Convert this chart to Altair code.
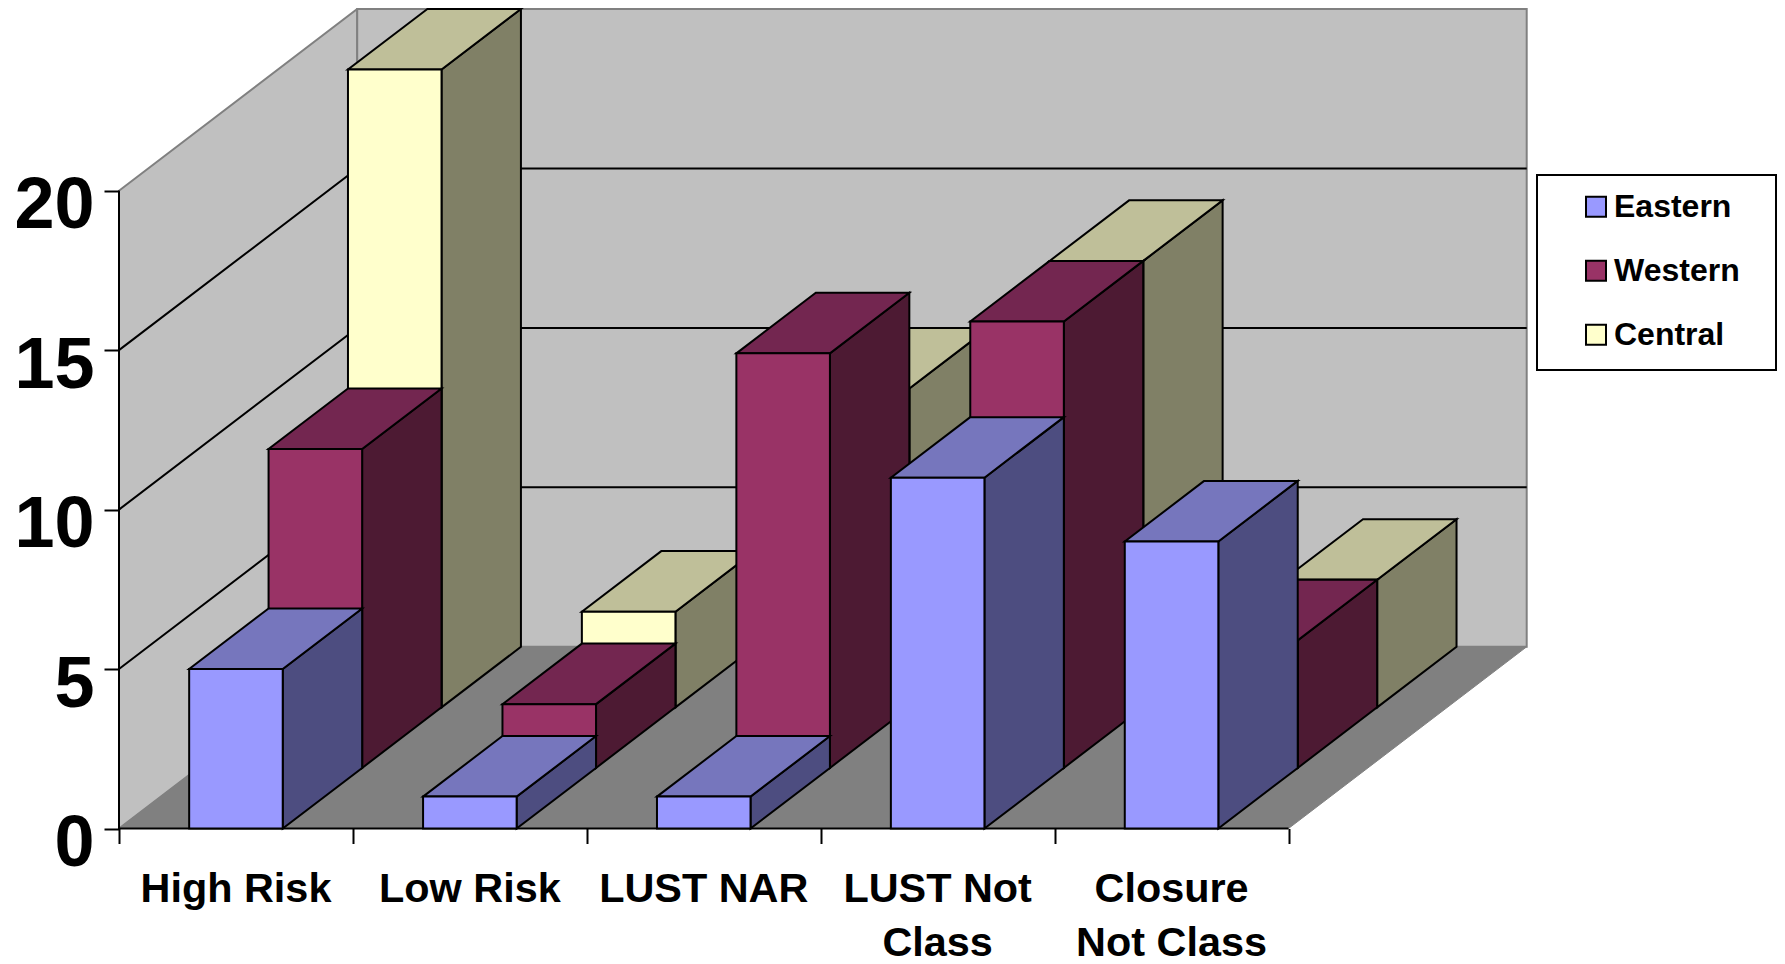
import altair as alt
import pandas as pd

categories = ["High Risk", "Low Risk", "LUST NAR", "LUST Not\nClass", "Closure\nNot Class"]
eastern = [5, 1, 1, 11, 9]
western = [10, 2, 13, 14, 4]
central = [20, 3, 10, 14, 4]
series_names = ["Eastern", "Western", "Central"]
front_colors = ["#9999FF", "#993366", "#FFFFCC"]
side_colors = ["#4D4D80", "#4D1A33", "#808066"]
top_colors = ["#7676BD", "#732650", "#BFBF99"]
grid_levels = [5, 10, 15]
y_ticks = [0, 5, 10, 15, 20]
x_ticks = [0, 1, 2, 3, 4, 5]

W, H = 1769, 956
PX_CAT, PX_VAL = 233.9, 31.89
X0, Y0 = 119.0, 828.5  # page position of the chart origin
DX, DY = 79.4 / PX_CAT, 60.57 / PX_VAL  # oblique projection of one depth row
BAR_GAP, BAR_W = 0.3, 0.4
N_ROWS = 3
N_CAT = len(categories)

sx = alt.Scale(domain=[(8 - X0) / PX_CAT, (8 + W - X0) / PX_CAT], range=[0, W], nice=False, zero=False)
sy = alt.Scale(domain=[(Y0 - 8 - H) / PX_VAL, (Y0 - 8) / PX_VAL], range=[H, 0], nice=False, zero=False)

x_axis = alt.Axis(
    values=x_ticks, labels=False, title=None, domain=False, grid=False, ticks=True,
    tickSize=15, tickWidth=2, tickColor="black", offset=-(8 + H - Y0), zindex=2)
y_axis = alt.Axis(
    values=y_ticks, title=None, domain=False, grid=False, tickSize=15, tickWidth=2, tickColor="black",
    labelFontSize=72, labelFont="Liberation Sans", labelFontWeight="bold", labelColor="black",
    labelPadding=10, labelOffset=15, labelFlush=False, labelOverlap=False, format="d",
    offset=-(X0 - 8), zindex=2)


def X(f="x"):
    return alt.X(f"{f}:Q", scale=sx, axis=x_axis)


def Y(f="y"):
    return alt.Y(f"{f}:Q", scale=sy, axis=y_axis)


layers = []

# walls and floor
back_dx, back_dy = DX * N_ROWS, DY * N_ROWS
left_wall = pd.DataFrame({"x": [0, back_dx], "y": [20, 20 + back_dy], "y2": [0, back_dy]})
layers.append(alt.Chart(left_wall).mark_area(fill="#C0C0C0", stroke="#808080", strokeWidth=2).encode(
    x=X(), y=Y(), y2="y2:Q"))
back_wall = pd.DataFrame([{"x": back_dx, "x2": back_dx + N_CAT, "y": 20 + back_dy, "y2": back_dy}])
layers.append(alt.Chart(back_wall).mark_rect(fill="#C0C0C0", stroke="#808080", strokeWidth=2).encode(
    x=X(), x2="x2:Q", y=Y(), y2="y2:Q"))
floor = pd.DataFrame({"y": [0, back_dy], "x": [0, back_dx], "x2": [N_CAT, N_CAT + back_dx]})
layers.append(alt.Chart(floor).mark_area(orient="horizontal", fill="#808080", stroke="#808080", strokeWidth=1).encode(
    x=X(), x2="x2:Q", y=Y()))

# gridlines running along the left and back walls
grid = []
for lv in grid_levels:
    grid += [
        {"lv": lv, "o": 0, "x": 0, "y": lv},
        {"lv": lv, "o": 1, "x": back_dx, "y": lv + back_dy},
        {"lv": lv, "o": 2, "x": back_dx + N_CAT, "y": lv + back_dy},
    ]
layers.append(alt.Chart(pd.DataFrame(grid)).mark_line(color="black", strokeWidth=2).encode(
    x=X(), y=Y(), detail="lv:N", order="o:Q"))

# visible axis lines
axis_line = pd.DataFrame({"x": [0, 0, N_CAT], "y": [20, 0, 0], "o": [0, 1, 2]})
layers.append(alt.Chart(axis_line).mark_line(color="black", strokeWidth=2).encode(
    x=X(), y=Y(), order="o:Q"))

# legend frame
frame = pd.DataFrame([{"name": "legend frame"}])
layers.append(alt.Chart(frame).mark_rect(fill="white", stroke="black", strokeWidth=2).encode(
    x=alt.value(1537 - 8), x2=alt.value(W - 1), y=alt.value(175 - 8), y2=alt.value(370 - 8)))

# bars, back row first
color_enc = alt.Color("series:N", scale=alt.Scale(domain=series_names, range=front_colors), legend=alt.Legend(
    orient="none", legendX=1572, legendY=182.7, title=None, symbolType="square", symbolSize=400,
    symbolStrokeColor="black", symbolStrokeWidth=2, labelFontSize=32, labelFont="Liberation Sans",
    labelFontWeight="bold", labelColor="black", labelOffset=2, rowPadding=32, padding=0, symbolOpacity=1))

all_values = [eastern, western, central]
for r in reversed(range(N_ROWS)):
    name = series_names[r]
    bx, by = DX * r, DY * r
    fronts, sides, tops = [], [], []
    for i, v in enumerate(all_values[r]):
        x0 = i + BAR_GAP + bx
        x1 = x0 + BAR_W
        fronts.append({"series": name, "x": x0, "x2": x1, "y": by + v, "y2": by})
        sides += [
            {"id": i, "x": x1, "y": by + v, "y2": by},
            {"id": i, "x": x1 + DX, "y": by + DY + v, "y2": by + DY},
        ]
        tops += [
            {"id": i, "y": by + v, "x": x0, "x2": x1},
            {"id": i, "y": by + DY + v, "x": x0 + DX, "x2": x1 + DX},
        ]
    layers.append(alt.Chart(pd.DataFrame(sides)).mark_area(
        fill=side_colors[r], stroke="black", strokeWidth=2, opacity=1).encode(
        x=X(), y=Y(), y2="y2:Q", detail="id:N"))
    layers.append(alt.Chart(pd.DataFrame(tops)).mark_area(
        orient="horizontal", fill=top_colors[r], stroke="black", strokeWidth=2, opacity=1).encode(
        x=X(), x2="x2:Q", y=Y(), detail="id:N"))
    layers.append(alt.Chart(pd.DataFrame(fronts)).mark_rect(stroke="black", strokeWidth=2, opacity=1).encode(
        x=X(), x2="x2:Q", y=Y(), y2="y2:Q", color=color_enc))

# category labels
labels = pd.DataFrame({"x": [i + 0.5 for i in range(N_CAT)], "label": categories})
layers.append(alt.Chart(labels).mark_text(
    font="Liberation Sans", fontSize=41.4, fontWeight="bold", color="black", baseline="top", align="center",
    lineBreak="\n", lineHeight=54).encode(
    x=X(), y=alt.value(868.5 - 8), text="label:N"))

chart = alt.layer(*layers).properties(
    width=W, height=H, padding=0, autosize=alt.AutoSizeParams(type="none")
).configure_view(stroke=None)

chart.save("out.html", embed_options={"renderer": "svg", "actions": False})
